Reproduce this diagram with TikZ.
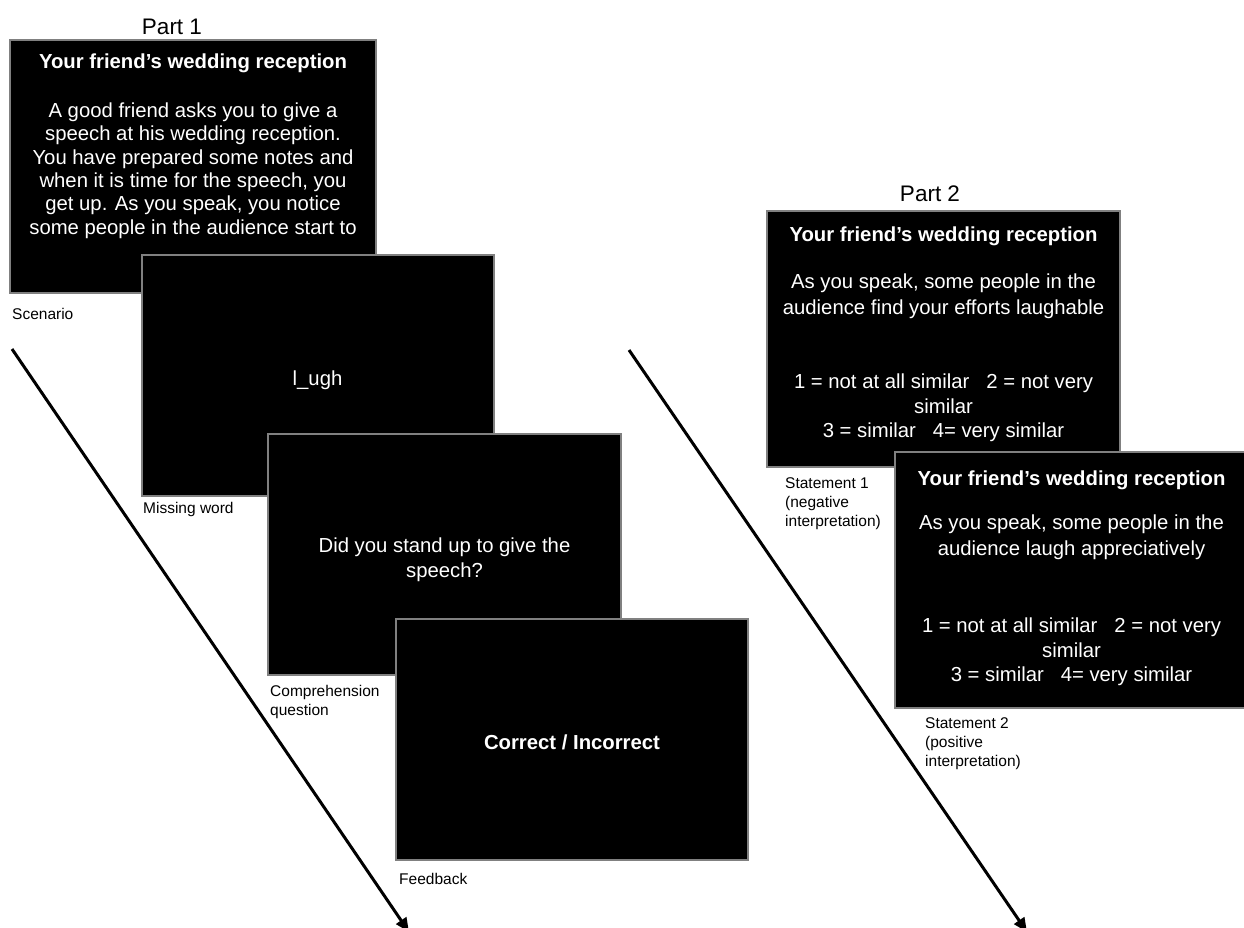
\documentclass[tikz,border=0pt]{standalone}
\usepackage{fontspec}
\setmainfont{Liberation Sans}
\usetikzlibrary{arrows.meta}
\definecolor{bordergray}{RGB}{128,128,128}
\begin{document}
\begin{tikzpicture}[x=1pt,y=-1pt,
  slide/.style={draw=bordergray, line width=1.5pt, fill=black, inner sep=0pt, outer sep=0pt,
                minimum width=352pt, minimum height=241pt, anchor=north west},
  slidetxt/.style={text=white, align=center, inner sep=0pt, font=\fontsize{20.3}{23.4}\selectfont},
  caption/.style={text=black, align=left, anchor=west, inner sep=0pt, font=\fontsize{15.5}{19}\selectfont},
  parttitle/.style={inner sep=0pt, font=\fontsize{22.5}{26}\selectfont},
  timearrow/.style={line width=3pt, -{Triangle[length=14pt,width=12pt]}}]
\useasboundingbox (0,0) rectangle (1244,927);

% Part 1
\node[parttitle] (p1) at (172,27) {Part 1};

\node[slide, minimum width=366pt, minimum height=253pt] (b1) at (10,40) {};
\node[slidetxt] (b1t) at (193,63) {\bfseries Your friend’s wedding reception};
\node[slidetxt] (b1b) at (193,170.5) {A good friend asks you to give a\\speech at his wedding reception.\\You have prepared some notes and\\when it is time for the speech, you\\get up. As you speak, you notice\\some people in the audience start to};
\node[caption] (c1) at (12,314) {Scenario};

\node[slide] (b2) at (142,255) {};
\node[slidetxt] (b2t) at (317.5,380) {l\_ugh};
\node[caption] (c2) at (143,509) {Missing word};

\node[slide, minimum width=353pt] (b3) at (268,434) {};
\node[slidetxt, font=\fontsize{20.3}{25.5}\selectfont] (b3t) at (444.5,559.5) {Did you stand up to give the\\speech?};
\node[caption] (c3) at (270,702) {Comprehension\\question};

\node[slide] (b4) at (396,619) {};
\node[slidetxt] (b4t) at (572,742) {\bfseries Correct / Incorrect};
\node[caption] (c4) at (399,879) {Feedback};

% Part 2
\node[parttitle] (p2) at (930,194) {Part 2};

\node[slide, minimum width=353pt, minimum height=256pt] (b5) at (767,211) {};
\node[slidetxt] (b5t) at (943.5,236) {\bfseries Your friend’s wedding reception};
\node[slidetxt, font=\fontsize{20.3}{25.5}\selectfont] (b5b) at (943.5,296) {As you speak, some people in the\\audience find your efforts laughable};
\node[slidetxt, font=\fontsize{20.3}{24.5}\selectfont] (b5r) at (943.5,408) {1 = not at all similar \ \ 2 = not very\\similar\\3 = similar \ \ 4= very similar};
\node[caption] (c5) at (785,504) {Statement 1\\(negative\\interpretation)};

\node[slide, minimum width=353pt, minimum height=256pt] (b6) at (895,452) {};
\node[slidetxt] (b6t) at (1071.5,480) {\bfseries Your friend’s wedding reception};
\node[slidetxt, font=\fontsize{20.3}{26.5}\selectfont] (b6b) at (1071.5,537) {As you speak, some people in the\\audience laugh appreciatively};
\node[slidetxt, font=\fontsize{20.3}{24.5}\selectfont] (b6r) at (1071.5,652) {1 = not at all similar \ \ 2 = not very\\similar\\3 = similar \ \ 4= very similar};
\node[caption] (c6) at (925,744) {Statement 2\\(positive\\interpretation)};

% time arrows
\coordinate (a1s) at (12,349);
\coordinate (a1e) at (409,932);
\coordinate (a2s) at (629,350);
\coordinate (a2e) at (1027,932);
\draw[timearrow] (a1s) -- (a1e);
\draw[timearrow] (a2s) -- (a2e);
\end{tikzpicture}
\end{document}
